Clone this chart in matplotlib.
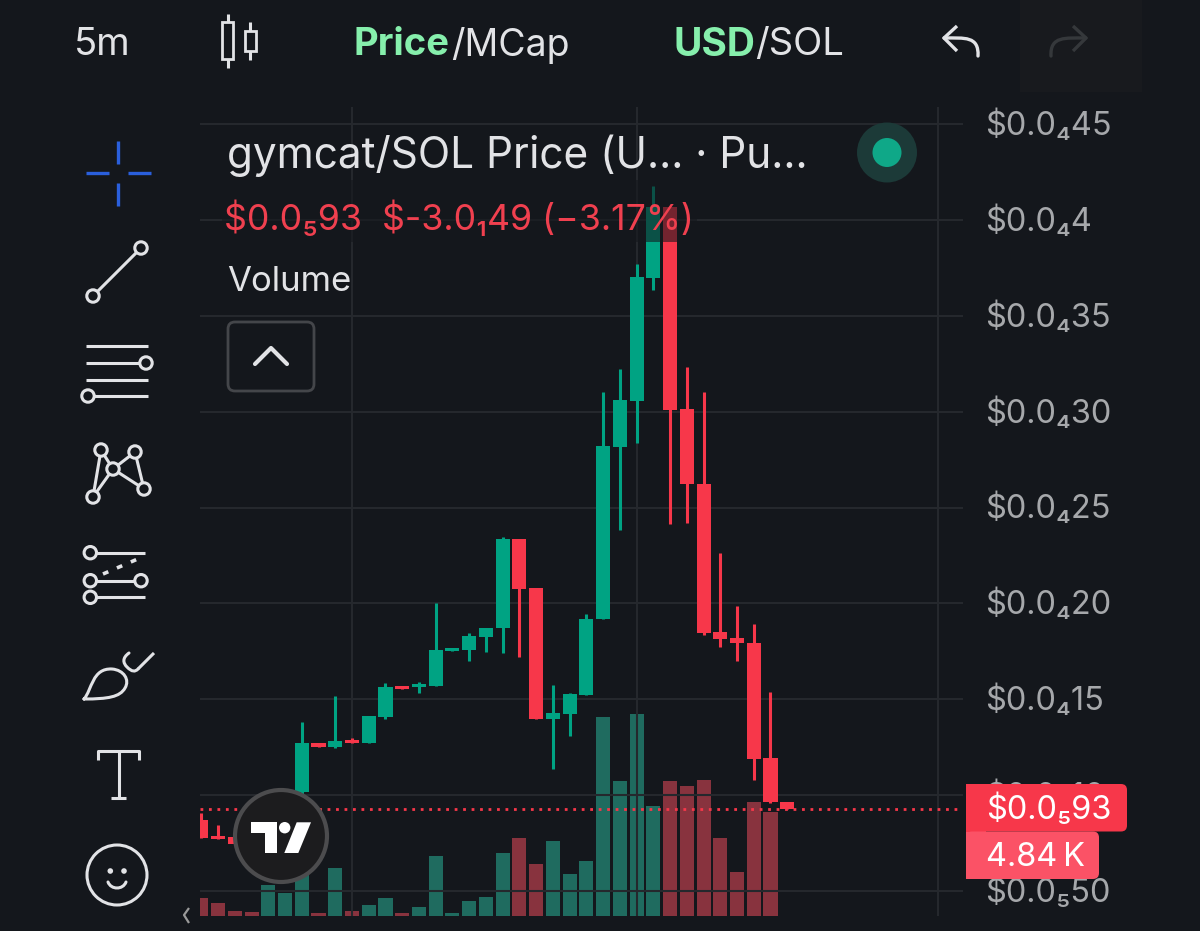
import matplotlib
matplotlib.use("Agg")
import matplotlib.pyplot as plt
from matplotlib.patches import Circle, FancyBboxPatch, Rectangle, PathPatch, Polygon
from matplotlib.path import Path
from matplotlib.transforms import ScaledTranslation

plt.rcParams['font.family'] = ['Inter', 'Noto Sans', 'DejaVu Sans']

# prices in units of 1e-6 USD, one entry per 5m candle
opens = [8.70, 7.89, 7.80, 7.44, 7.35, 8.40, 10.18, 12.72, 12.53, 12.86, 12.72, 14.06, 15.68, 15.64, 15.69, 17.54, 17.57, 18.25,
         18.70, 23.35, 20.81, 13.99, 14.23, 15.24, 19.17, 28.16, 30.58, 37.00, 40.70, 30.13, 26.25, 18.50, 18.20, 17.95, 11.94, 9.64]
highs = [9.08, 8.44, 7.80, 7.44, 8.40, 10.30, 13.83, 12.72, 15.17, 12.97, 14.13, 15.87, 15.68, 15.92, 20.01, 17.68, 18.44, 18.74,
         23.48, 23.35, 20.81, 15.76, 15.33, 19.45, 31.02, 32.22, 37.71, 41.78, 40.70, 32.35, 31.02, 22.62, 19.85, 18.93, 15.38, 9.64]
lows = [7.78, 7.71, 7.44, 7.35, 7.35, 8.30, 10.06, 12.51, 12.48, 12.72, 12.72, 13.97, 15.54, 15.35, 15.69, 17.54, 16.98, 17.47,
        17.42, 17.19, 13.99, 11.36, 13.10, 15.24, 19.17, 23.83, 28.39, 36.35, 24.13, 24.21, 18.37, 17.71, 17.00, 10.81, 9.59, 9.30]
closes = [7.78, 7.71, 7.44, 7.35, 8.40, 10.18, 12.74, 12.51, 12.81, 12.72, 14.13, 15.63, 15.54, 15.80, 17.57, 17.68, 18.30, 18.74,
          23.35, 20.76, 13.99, 14.27, 15.29, 19.21, 28.20, 30.62, 37.03, 40.70, 30.09, 26.22, 18.46, 18.15, 17.92, 11.89, 9.63, 9.30]
volumes = [17.7, 13, 5.3, 3.7, 31.3, 23.3, 44, 2.7, 48, 5.3, 11, 17.7, 2.7, 9.3, 60.3, 2.7, 15, 18.7,
           63, 78, 52, 75.3, 42, 55, 199, 134.7, 202, 110.3, 134.7, 130, 136, 78, 43.7, 114.3, 104, 0]
is_up = [c >= o for o, c in zip(opens, closes)]

tick_prices = [45, 40, 35, 30, 25, 20, 15, 10, 5]
tick_labels = ['$0.0₄45', '$0.0₄4', '$0.0₄35', '$0.0₄30', '$0.0₄25', '$0.0₄20', '$0.0₄15', '$0.0₄10', '$0.0₅50']
last_price = 9.3
v_grid = [9, 26, 44]

BG = '#14171c'
GRID = '#25282d'
UP = '#00a383'
DOWN = '#f7374a'
UP_VOL = '#1f6b5f'
DOWN_VOL = '#88333e'
LIGHT = '#e2e3e6'
TICK = '#a6a8ab'
MINT = '#86efac'

W, H = 1200, 931
fig = plt.figure(figsize=(12, 9.31), dpi=100, facecolor=BG)

# chart rectangle in pixels: x 200-963, y 107-916
rect = [200 / W, (H - 916) / H, 763 / W, 809 / H]
ax_vol = fig.add_axes(rect, zorder=1)
ax = fig.add_axes(rect, zorder=2)
ax.patch.set_visible(False)
ax_vol.set_facecolor(BG)

xs = list(range(len(opens)))
ax_vol.bar(xs, volumes, width=0.84, linewidth=0,
           color=[UP_VOL if u else DOWN_VOL for u in is_up])
ax_vol.set_ylim(0, 809)
ax_vol.set_xlim(-0.08, 45.5)
ax_vol.axis('off')

colors = [UP if u else DOWN for u in is_up]
ax.vlines(xs, lows, highs, colors=colors, linewidth=2.2, capstyle='butt', zorder=3)
bottoms = [min(o, c) for o, c in zip(opens, closes)]
heights = [abs(o - c) for o, c in zip(opens, closes)]
ax.bar(xs, heights, bottom=bottoms, width=0.84, color=colors, linewidth=0, zorder=4)
ax.axhline(last_price, color=DOWN, linewidth=2.0, linestyle=(0, (1, 2.05)), zorder=5, xmax=0.998)

ax.set_xlim(-0.08, 45.5)
ax.set_ylim(3.696, 45.90)
ax.set_xticks(v_grid)
ax.set_xticklabels([])
ax.set_yticks(tick_prices)
ax.set_yticklabels(tick_labels, fontsize=23.4, color=TICK)
ax.yaxis.tick_right()
ax.tick_params(axis='both', length=0)
ax.tick_params(axis='y', pad=16)
ax.grid(True, color=GRID, linewidth=1.5)
ax.set_axisbelow(True)
lift = ScaledTranslation(0, 2 / 100, fig.dpi_scale_trans)
for lab in ax.get_yticklabels():
    lab.set_transform(lab.get_transform() + lift)
for s in ax.spines.values():
    s.set_visible(False)

# everything that is app chrome sits on a pixel-coordinate overlay
ui = fig.add_axes([0, 0, 1, 1], zorder=5)
ui.set_xlim(0, W)
ui.set_ylim(H, 0)
ui.axis('off')
ui.patch.set_visible(False)


def line(xs_, ys_, color=LIGHT, lw=2.2, **kw):
    ui.plot(xs_, ys_, color=color, linewidth=lw, solid_capstyle=kw.pop('cap', 'butt'), **kw)


def ring(x, y, r=6.2, color=LIGHT, lw=2.2):
    ui.add_patch(Circle((x, y), r, facecolor=BG, edgecolor=color, linewidth=lw, zorder=4))


def curve(points, lw=2.2, color=LIGHT):
    # points: start, then triples of cubic bezier controls
    codes = [Path.MOVETO] + [Path.CURVE4] * (len(points) - 1)
    ui.add_patch(PathPatch(Path(points, codes), facecolor='none', edgecolor=color, linewidth=lw,
                           joinstyle='round', capstyle='round'))


# top bar
ui.text(74, 45, '5m', fontsize=27.5, color=LIGHT, va='center')
ui.text(354, 45, 'Price', fontsize=27.5, color=MINT, va='center', fontweight='bold')
ui.text(451, 45, '/MCap', fontsize=27, color=LIGHT, va='center')
ui.text(673, 45, 'USD', fontsize=28, color=MINT, va='center', fontweight='bold')
ui.text(755, 45, '/SOL', fontsize=27.5, color=LIGHT, va='center')

for cx, top, bot, wt, wb, hw in [(227.7, 22, 59, 14, 68, 5.5), (250, 31, 51, 22, 60, 5.5)]:
    line([cx, cx], [wt, top])
    line([cx, cx], [bot, wb])
    ui.add_patch(Rectangle((cx - hw, top), 2 * hw, bot - top, facecolor='none', edgecolor=LIGHT, linewidth=2))

line([957, 944, 957], [26, 38, 51], lw=2.4)
curve([(944, 38), (965, 38), (979, 36), (978, 56)], lw=2.4)
ui.add_patch(Rectangle((1020, 0), 122, 92, facecolor='#181a1e', edgecolor='none'))
DIM = '#35383b'
line([1073, 1086, 1073], [26, 38, 51], lw=2.4, color=DIM)
curve([(1086, 38), (1065, 38), (1050, 36), (1051, 56)], lw=2.4, color=DIM)

# left tool column
BLUE = '#2a5fdc'
line([118, 118], [141, 164], color=BLUE, lw=2.4)
line([118, 118], [183, 206], color=BLUE, lw=2.4)
line([86, 109], [173, 173], color=BLUE, lw=2.4)
line([128, 151], [173, 173], color=BLUE, lw=2.4)

line([93, 141], [296, 248])
ring(93, 296)
ring(141, 248)

for yy in [346, 363, 379.5, 396]:
    line([86, 148], [yy, yy])
ring(146, 363)
ring(88, 396)

nodes = {'a': (101, 450), 'b': (135, 452), 'c': (113, 469), 'd': (93, 497), 'e': (144, 489)}
for p, q in ['ad', 'ac', 'cd', 'cb', 'be', 'ce']:
    line([nodes[p][0], nodes[q][0]], [nodes[p][1], nodes[q][1]])
for n in nodes.values():
    ring(*n)

line([90, 145], [552.7, 552.7])
line([90, 141], [580.7, 580.7])
line([90, 145], [597.3, 597.3])
line([103, 140], [574, 558], lw=2.6, linestyle=(0, (1.6, 2.6)))
ring(90.3, 552.7)
ring(90.3, 580.7)
ring(141, 580.7)
ring(90.3, 597.3)

# brush
curve([(84, 699), (92, 690), (92, 668), (112, 669),
       (124, 670), (130, 680), (125, 688),
       (120, 697), (108, 699), (84, 699)])
curve([(129, 653), (122, 658), (123, 663), (127, 667),
       (132, 672), (135, 672), (138, 669)])
line([138, 154], [669, 653])

line([98, 98, 139, 139], [760, 751, 751, 760])
line([118.5, 118.5], [751, 798])
line([111, 126], [798, 798])

ui.add_patch(Circle((117, 875), 30, facecolor='none', edgecolor=LIGHT, linewidth=2.2, zorder=4))
ui.add_patch(Circle((110.3, 871), 2.8, facecolor=LIGHT, edgecolor='none', zorder=4))
ui.add_patch(Circle((124, 871), 2.8, facecolor=LIGHT, edgecolor='none', zorder=4))
curve([(108, 882), (111, 890), (123, 890), (126, 882)])

line([189, 184, 189], [908, 915, 923], color='#9a9a9a', lw=1.6)

# legend block, fades whatever runs under the values row
ui.add_patch(Rectangle((222, 180), 475, 62, facecolor=BG, edgecolor='none', alpha=0.58))
ui.text(227, 156, 'gymcat/SOL Price (U... · Pu...', fontsize=30.5, color=LIGHT, va='center')
ui.text(224, 219, r'\$0.0₅93  \$-3.0₁49 (−3.17%)', fontsize=25.7, color='#f0404f', va='center')
ui.text(227, 282, 'Volume', fontsize=25, color=LIGHT, va='center')
ui.add_patch(FancyBboxPatch((228, 322), 86, 69, boxstyle='round,pad=0,rounding_size=7',
                            facecolor=BG, edgecolor='#44464a', linewidth=2))
line([255, 271, 287], [364, 348, 364], lw=3, cap='round')

ui.add_patch(Circle((887, 152.5), 30, facecolor='#1c3a38', edgecolor='none'))
ui.add_patch(Circle((887, 152.5), 14.5, facecolor='#0fa888', edgecolor='none'))

# price and volume tags on the axis
ui.add_patch(FancyBboxPatch((966, 784), 161, 47.5, boxstyle='round,pad=0,rounding_size=6',
                            facecolor='#f7374a', edgecolor='none', zorder=5))
ui.add_patch(Rectangle((966, 784), 20, 47.5, facecolor='#f7374a', edgecolor='none', zorder=5))
ui.add_patch(FancyBboxPatch((966, 831.5), 133, 47.5, boxstyle='round,pad=0,rounding_size=6',
                            facecolor='#fb5266', edgecolor='none', zorder=5))
ui.add_patch(Rectangle((966, 831.5), 20, 47.5, facecolor='#fb5266', edgecolor='none', zorder=5))
ui.text(986, 810, '$0.0₅93', fontsize=23.4, color='white', va='center', zorder=6)
ui.text(986, 857, '4.84\u2009K', fontsize=23.4, color='white', va='center', zorder=6)

# tradingview badge
ui.add_patch(Circle((281, 836), 46, facecolor='#1c1c1e', edgecolor='#4c4c4e', linewidth=3, zorder=7))
ui.add_patch(Polygon([(250.7, 822.3), (276.7, 822.3), (276.7, 853), (265, 853), (265, 833.3), (250.7, 833.3)],
                     facecolor='white', edgecolor='none', zorder=8))
ui.add_patch(Circle((284.7, 827.7), 5.7, facecolor='white', edgecolor='none', zorder=8))
ui.add_patch(Polygon([(296.7, 822.3), (311, 822.3), (298.3, 853), (284.3, 853)],
                     facecolor='white', edgecolor='none', zorder=8))

fig.savefig('out.png', dpi=100, facecolor=BG)
